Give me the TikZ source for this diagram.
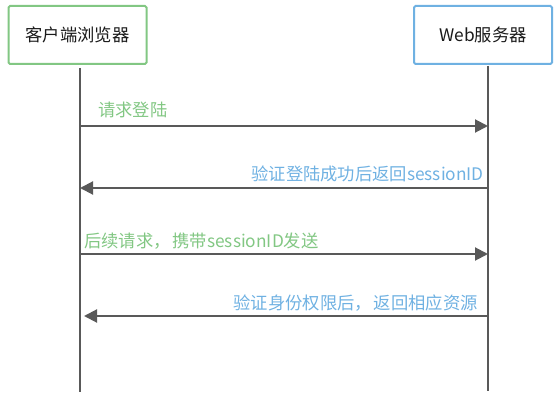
\documentclass[tikz,border=0pt]{standalone}
\usepackage{fontspec}
\setmainfont{Noto Sans CJK SC}
\usepackage{xcolor}
\usetikzlibrary{arrows.meta,positioning}
\definecolor{actgreen}{RGB}{130,199,131}
\definecolor{actblue}{RGB}{111,177,226}
\definecolor{linegray}{RGB}{89,89,89}
\definecolor{txtgray}{RGB}{26,26,26}

\begin{document}
\begin{tikzpicture}
[   x=1pt, y=-1pt,
    actor/.style={draw, line width=2pt, rounded corners=1.5pt, minimum width=138pt, minimum height=58pt, fill=white, text=txtgray, font=\fontsize{17.3}{20}\selectfont},
    life/.style={draw=linegray, line width=2pt},
    msg/.style={draw=linegray, line width=2pt, -{Triangle[length=13pt,width=13pt]}},
    lbl/.style={inner sep=0pt, font=\fontsize{17.3}{20}\selectfont}, ]
    \useasboundingbox (0,0) rectangle (560,401);

    \node[actor, draw=actgreen] (client) at (77.5,35) {客户端浏览器};
    \node[actor, draw=actblue] (server) at (483,35) {Web服务器};

    \coordinate (c-top) at (80,68);
    \coordinate (c-bot) at (80,392);
    \coordinate (s-top) at (488,66);
    \coordinate (s-bot) at (488,391);
    \draw[life] (c-top) -- (c-bot);
    \draw[life] (s-top) -- (s-bot);

    \foreach \y [count=\i] in {126,188,254,316}
    {
        \coordinate (c-\i) at (80,\y);
        \coordinate (s-\i) at (488,\y);
    }

    \draw[msg] (c-1) -- (s-1);
    \draw[msg] (s-2) -- (c-2);
    \draw[msg] (c-3) -- (s-3);
    \draw[msg, shorten >=4pt] (s-4) -- (c-4);

    \node[lbl, text=actgreen, anchor=west] (m-1) at (98,110) {请求登陆};
    \node[lbl, text=actblue, anchor=east] (m-2) at (484,174) {验证登陆成功后返回sessionID};
    \node[lbl, text=actgreen, anchor=west] (m-3) at (84,241) {后续请求，\kern2pt携带sessionID发送};
    \node[lbl, text=actblue, anchor=east] (m-4) at (478,303) {验证身份权限后，\kern2pt返回相应资源};

\end{tikzpicture}
\end{document}
